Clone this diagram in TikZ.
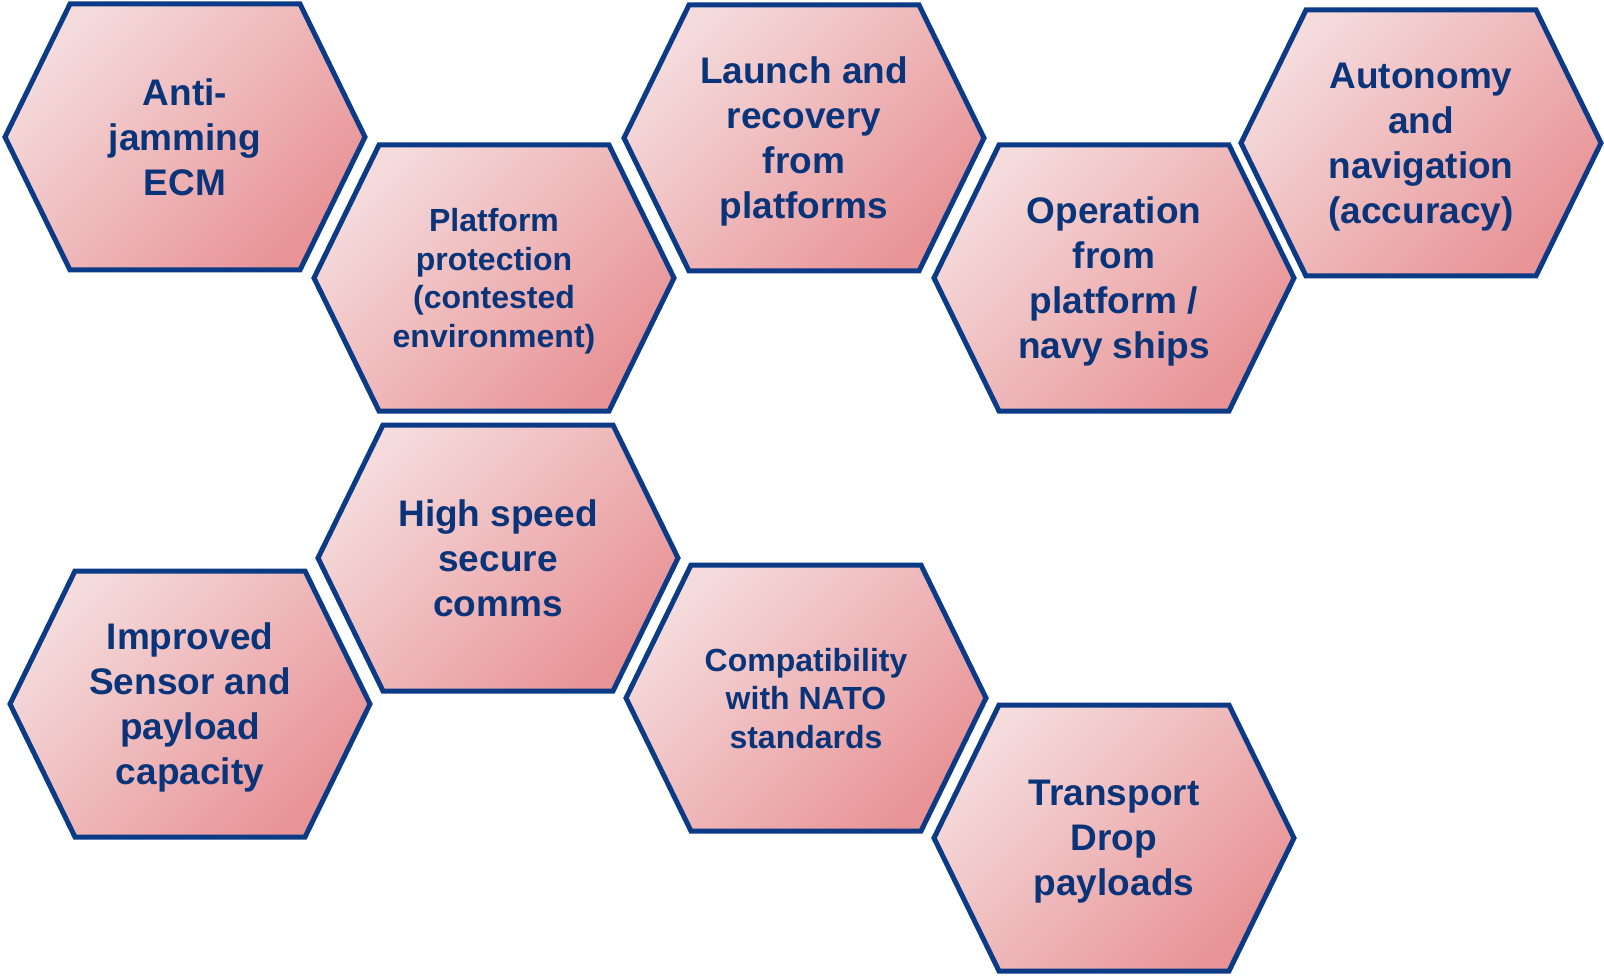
\documentclass[tikz,border=0pt]{standalone}
\usepackage{fontspec}
\setmainfont{Liberation Sans}
\usetikzlibrary{backgrounds}
\definecolor{hexBlue}{HTML}{0B3A86}
\definecolor{hexText}{HTML}{0A3479}
\definecolor{hexLight}{HTML}{F5DBDC}
\definecolor{hexDark}{HTML}{E89396}

\begin{document}
\begin{tikzpicture}[x=1pt, y=-1pt,
    HX/.style = {draw=hexBlue, line width=5pt,% outline
                 top color=hexLight, bottom color=hexDark,
                 shading angle=45},
    TX/.style = {text=hexText, align=center, inner sep=0pt, text depth=0pt,
                 font=\bfseries\fontsize{37}{45}\selectfont},
    TS/.style = {TX, font=\bfseries\fontsize{32}{38.5}\selectfont}]
%---
\useasboundingbox (0,0) rectangle (1604,976);
% upper band
\node (aj) [TX] at (185,137)  {Anti-\\jamming\\ECM};
\node (pp) [TS] at (494,278)  {Platform\\protection\\(contested\\environment)};
\node (lr) [TX] at (804,138)  {Launch and\\recovery\\from\\platforms};
\node (op) [TX] at (1114,278) {Operation\\from\\platform /\\navy ships};
\node (an) [TX] at (1421,143) {Autonomy\\and\\navigation\\(accuracy)};
% lower band
\node (hs) [TX] at (498,558)  {High speed\\secure\\comms};
\node (is) [TX] at (190,704)  {Improved\\Sensor and\\payload\\capacity};
\node (cn) [TS] at (806,698)  {Compatibility\\with NATO\\standards};
\node (td) [TX] at (1114,838) {Transport\\Drop\\payloads};
% hexagons
\begin{scope}[on background layer]
\foreach \n in {aj,pp,lr,op,an,hs,is,cn,td}
    \draw[HX] ([xshift=-180pt]\n.center) -- ++(65pt,133pt) -- ++(230pt,0pt)
              -- ++(65pt,-133pt) -- ++(-65pt,-133pt) -- ++(-230pt,0pt) -- cycle;
\end{scope}
\end{tikzpicture}
\end{document}
